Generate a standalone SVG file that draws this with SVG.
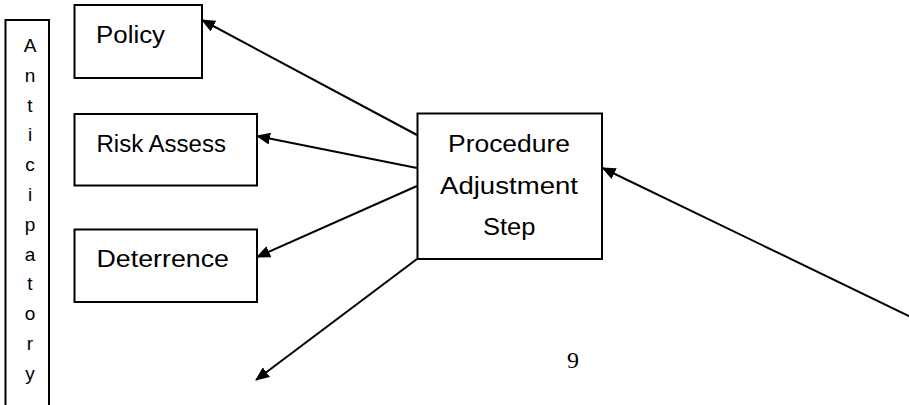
<svg xmlns="http://www.w3.org/2000/svg" width="909" height="405" viewBox="0 0 909 405">
<style>
  .box { fill: #ffffff; stroke: #000000; stroke-width: 2; }
  .lbl { font-family: "Liberation Sans", Arial, sans-serif; font-size: 23px; fill: #000000; }
  .vl { font-family: "Liberation Sans", Arial, sans-serif; font-size: 19px; fill: #000000; text-anchor: middle; }
  .conn { stroke: #000000; stroke-width: 2; fill: none; marker-end: url(#arrow); }
  .pg { font-family: "Liberation Serif", "Times New Roman", serif; font-size: 24px; fill: #000000; }
</style>
<defs>
  <marker id="arrow" markerUnits="userSpaceOnUse" markerWidth="14" markerHeight="12" refX="13" refY="6" orient="auto">
    <path d="M0,0 L14,6 L0,12 z" fill="#000000"/>
  </marker>
</defs>
<rect width="909" height="405" fill="#ffffff"/>
<g id="anticipatory">
  <rect class="box" x="5.5" y="20" width="43.5" height="400"/>
  <text class="vl" x="30" y="52">A</text>
  <text class="vl" x="30" y="81.8">n</text>
  <text class="vl" x="30" y="111.6">t</text>
  <text class="vl" x="30" y="141.4">i</text>
  <text class="vl" x="30" y="171.2">c</text>
  <text class="vl" x="30" y="201">i</text>
  <text class="vl" x="30" y="230.8">p</text>
  <text class="vl" x="30" y="260.6">a</text>
  <text class="vl" x="30" y="290.4">t</text>
  <text class="vl" x="30" y="320.2">o</text>
  <text class="vl" x="30" y="350">r</text>
  <text class="vl" x="30" y="379.8">y</text>
</g>
<g id="policy">
  <rect class="box" x="74.5" y="5" width="127.5" height="73"/>
  <text class="lbl" x="96" y="43" textLength="69" lengthAdjust="spacingAndGlyphs">Policy</text>
</g>
<g id="risk-assess">
  <rect class="box" x="74.5" y="114" width="182.5" height="71.5"/>
  <text class="lbl" x="96.5" y="152" textLength="129.5" lengthAdjust="spacingAndGlyphs">Risk Assess</text>
</g>
<g id="deterrence">
  <rect class="box" x="74.5" y="229.5" width="182.5" height="72.5"/>
  <text class="lbl" x="96.5" y="267" textLength="132.5" lengthAdjust="spacingAndGlyphs">Deterrence</text>
</g>
<g id="procedure-adjustment-step">
  <rect class="box" x="417.5" y="113.5" width="184.5" height="145.5"/>
  <text class="lbl" x="448" y="152" textLength="122" lengthAdjust="spacingAndGlyphs">Procedure</text>
  <text class="lbl" x="440" y="193.5" textLength="138" lengthAdjust="spacingAndGlyphs">Adjustment</text>
  <text class="lbl" x="483" y="235" textLength="52.5" lengthAdjust="spacingAndGlyphs">Step</text>
</g>
<g id="connectors">
  <line class="conn" x1="417" y1="135" x2="202" y2="20"/>
  <line class="conn" x1="417" y1="168" x2="257" y2="136"/>
  <line class="conn" x1="417" y1="186" x2="257" y2="257"/>
  <line class="conn" x1="417" y1="259" x2="256" y2="380"/>
  <line class="conn" x1="910" y1="316.5" x2="602.5" y2="168"/>
</g>
<text class="pg" x="567" y="368">9</text>
</svg>
